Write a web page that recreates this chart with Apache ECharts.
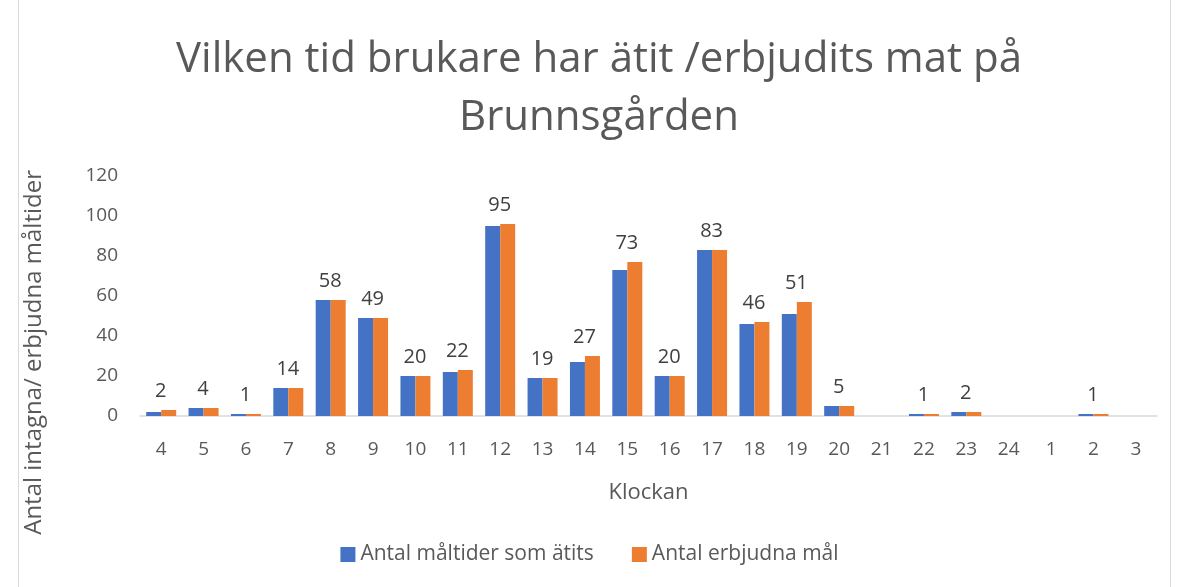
<!DOCTYPE html>
<html>
<head>
<meta charset="utf-8">
<script src="https://cdn.jsdelivr.net/npm/echarts@6/dist/echarts.min.js"></script>
<style>
  html, body { margin: 0; padding: 0; background: #fff; }
  #frame { position: absolute; left: 18px; top: -1px; width: 1151px; height: 587px; border: 1px solid #d9d9d9; }
  #chart { width: 1179px; height: 587px; }
</style>
</head>
<body>
<div id="frame"></div>
<div id="chart"></div>
<script>
const hours = ['4', '5', '6', '7', '8', '9', '10', '11', '12', '13', '14', '15', '16', '17', '18', '19', '20', '21', '22', '23', '24', '1', '2', '3']
const eaten = [2, 4, 1, 14, 58, 49, 20, 22, 95, 19, 27, 73, 20, 83, 46, 51, 5, 0, 1, 2, 0, 0, 1, 0]
const offered = [3, 4, 1, 14, 58, 49, 20, 23, 96, 19, 30, 77, 20, 83, 47, 57, 5, 0, 1, 2, 0, 0, 1, 0]
const yTicks = [0, 20, 40, 60, 80, 100, 120]

const font = '"Open Sans", "Noto Sans", sans-serif'
const grey = '#595959'

let chart = echarts.init(document.getElementById('chart'))
chart.setOption({
  textStyle: { fontFamily: font },
  title: {
    text: 'Vilken tid brukare har ätit /erbjudits mat på\nBrunnsgården',
    left: 594,
    top: 26,
    textAlign: 'center',
    textStyle: { fontSize: 42, fontWeight: 'normal', color: grey, lineHeight: 58, fontFamily: font }
  },
  legend: {
    bottom: 17,
    left: 'center',
    itemWidth: 15,
    itemHeight: 15,
    itemGap: 38,
    icon: 'rect',
    textStyle: { fontSize: 21, color: grey, fontFamily: font },
    data: ['Antal måltider som ätits', 'Antal erbjudna mål']
  },
  graphic: [{
    type: 'text',
    left: 22,
    top: 170,
    rotation: Math.PI / 2,
    style: {
      text: 'Antal intagna/ erbjudna måltider',
      fontSize: 24,
      fill: grey,
      fontFamily: font
    }
  }],
  grid: { left: 140, right: 22, top: 176, bottom: 171 },
  xAxis: {
    type: 'category',
    data: hours,
    name: 'Klockan',
    nameLocation: 'middle',
    nameGap: 66,
    nameTextStyle: { fontSize: 22, color: grey },
    axisLine: { lineStyle: { color: '#d9d9d9', width: 1.5 } },
    axisTick: { show: false },
    axisLabel: { fontSize: 19, color: grey, margin: 24 }
  },
  yAxis: {
    type: 'value',
    min: yTicks[0],
    max: yTicks[yTicks.length - 1],
    interval: yTicks[1] - yTicks[0],
    splitLine: { show: false },
    axisLine: { show: false },
    axisTick: { show: false },
    axisLabel: { fontSize: 19, color: grey, margin: 22 }
  },
  series: [
    {
      name: 'Antal måltider som ätits',
      type: 'bar',
      data: eaten,
      barWidth: 15,
      barGap: '0%',
      itemStyle: { color: '#4472C4' }
    },
    {
      name: 'Antal erbjudna mål',
      type: 'bar',
      data: offered,
      barWidth: 15,
      itemStyle: { color: '#ED7D31' },
      label: {
        show: true,
        position: 'top',
        distance: 9,
        offset: [-8, 0],
        fontSize: 20,
        color: '#404040',
        formatter: p => eaten[p.dataIndex] ? String(eaten[p.dataIndex]) : ''
      }
    }
  ]
})
</script>
</body>
</html>
